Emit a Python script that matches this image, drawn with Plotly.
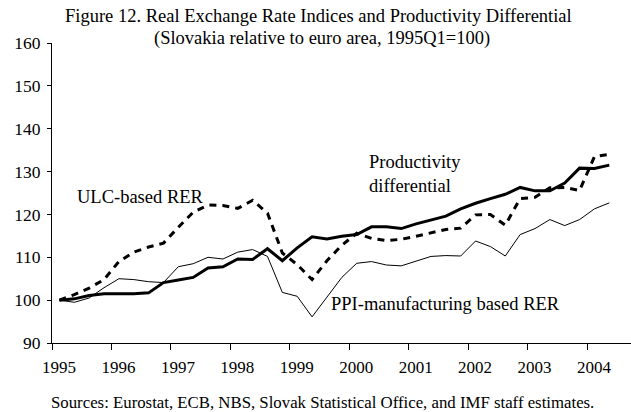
import plotly.graph_objects as go

# ---- data ----
years = ["1995", "1996", "1997", "1998", "1999", "2000", "2001", "2002", "2003", "2004"]
quarters = [f"{y}Q{q}" for y in years for q in range(1, 5)][:38]  # 1995Q1 .. 2004Q2

productivity = [100.0, 100.3, 101.1, 101.5, 101.5, 101.5, 101.7, 104.1, 104.7, 105.3,
                107.5, 107.8, 109.6, 109.5, 112.0, 109.2, 112.2, 114.8, 114.3, 114.9,
                115.3, 117.1, 117.1, 116.7, 117.8, 118.7, 119.6, 121.3, 122.6, 123.7,
                124.7, 126.3, 125.5, 125.5, 127.3, 130.8, 130.7, 131.5]

ulc_rer = [100.0, 101.3, 102.8, 104.8, 109.0, 111.2, 112.4, 113.3, 117.0, 120.5,
           122.2, 122.1, 121.4, 123.3, 120.3, 111.0, 108.3, 104.8, 109.2, 112.8,
           115.6, 114.4, 113.9, 114.2, 114.9, 115.7, 116.5, 116.8, 119.9, 120.0,
           117.5, 123.7, 124.0, 126.2, 126.3, 125.6, 133.5, 134.0]

ppi_rer = [100.0, 99.5, 100.5, 102.9, 105.0, 104.8, 104.3, 104.1, 107.8, 108.5,
           110.0, 109.6, 111.2, 111.8, 110.2, 101.8, 100.9, 96.1, 100.7, 105.3,
           108.6, 109.0, 108.2, 108.0, 109.1, 110.2, 110.4, 110.3, 113.8, 112.5,
           110.3, 115.3, 116.7, 118.8, 117.4, 118.8, 121.3, 122.7]

y_ticks = [90, 100, 110, 120, 130, 140, 150, 160]

title_line1 = "Figure 12. Real Exchange Rate Indices and Productivity Differential"
title_line2 = "(Slovakia relative to euro area, 1995Q1=100)"
footnote = "Sources: Eurostat, ECB, NBS, Slovak Statistical Office, and IMF staff estimates."

# ---- figure ----
FONT = "Liberation Serif, Times New Roman, serif"
W, H = 631, 412
ML, MR, MT, MB = 52, 0, 43, 69
PW, PH = W - ML - MR, H - MT - MB

def px_x(p):
    return (p - ML) / PW

def px_y(p):
    return (H - MB - p) / PH

xi = list(range(len(quarters)))

fig = go.Figure()
fig.add_trace(go.Scatter(x=xi, y=ppi_rer, mode="lines", name="PPI-manufacturing based RER",
                         line=dict(color="black", width=1)))
fig.add_trace(go.Scatter(x=xi, y=productivity, mode="lines", name="Productivity differential",
                         line=dict(color="black", width=3)))
fig.add_trace(go.Scatter(x=xi, y=ulc_rer, mode="lines", name="ULC-based RER",
                         line=dict(color="black", width=3, dash="7px,6px")))

tick_pos = [4 * k - 0.5 for k in range(len(years))]

fig.update_layout(
    width=W, height=H,
    margin=dict(l=ML, r=MR, t=MT, b=MB, pad=0),
    paper_bgcolor="white", plot_bgcolor="white",
    showlegend=False,
    font=dict(family=FONT, color="black", size=17),
    xaxis=dict(
        range=[-0.5, 38.46], tickvals=tick_pos, ticktext=years,
        ticks="outside", ticklen=6, tickcolor="black", tickwidth=1,
        showline=True, linecolor="black", linewidth=1,
        showgrid=False, zeroline=False, ticklabelshift=7,
        ticklabelstandoff=3,
        tickfont=dict(family=FONT, size=17, color="black"),
    ),
    yaxis=dict(
        range=[90, 160], tickvals=y_ticks,
        ticks="outside", ticklen=4, tickcolor="black", tickwidth=1,
        showline=True, linecolor="black", linewidth=1,
        showgrid=False, zeroline=False, ticklabelstandoff=3,
        tickfont=dict(family=FONT, size=17.5, color="black"),
    ),
)

ann_font = dict(family=FONT, size=18.5, color="black")
fig.add_annotation(x=(76 - 60.1) / 14.86, y=90 + (343 - 196.5) / (PH / 70), xref="x", yref="y",
                   text="ULC-based RER", showarrow=False, xanchor="left", yanchor="middle", font=ann_font)
fig.add_annotation(x=(368 - 60.1) / 14.86, y=90 + (343 - 174) / (PH / 70), xref="x", yref="y",
                   text="Productivity<br>differential", showarrow=False, align="left",
                   xanchor="left", yanchor="middle", font=ann_font)
fig.add_annotation(x=(329.5 - 60.1) / 14.86, y=90 + (343 - 303.5) / (PH / 70), xref="x", yref="y",
                   text="PPI-manufacturing based RER", showarrow=False, xanchor="left",
                   yanchor="middle", font=ann_font)

title_font = dict(family=FONT, size=18.5, color="black")
fig.add_annotation(x=px_x(318), y=px_y(16.5), xref="paper", yref="paper", text=title_line1,
                   showarrow=False, xanchor="center", yanchor="middle", font=title_font)
fig.add_annotation(x=px_x(322), y=px_y(38.3), xref="paper", yref="paper", text=title_line2,
                   showarrow=False, xanchor="center", yanchor="middle", font=title_font)
fig.add_annotation(x=px_x(322), y=px_y(402.5), xref="paper", yref="paper", text=footnote,
                   showarrow=False, xanchor="center", yanchor="middle",
                   font=dict(family=FONT, size=16.8, color="black"))

fig.write_html("out.html", config={"displayModeBar": False, "staticPlot": True},
               post_script="document.body.style.margin='0';document.body.style.overflow='hidden';")
